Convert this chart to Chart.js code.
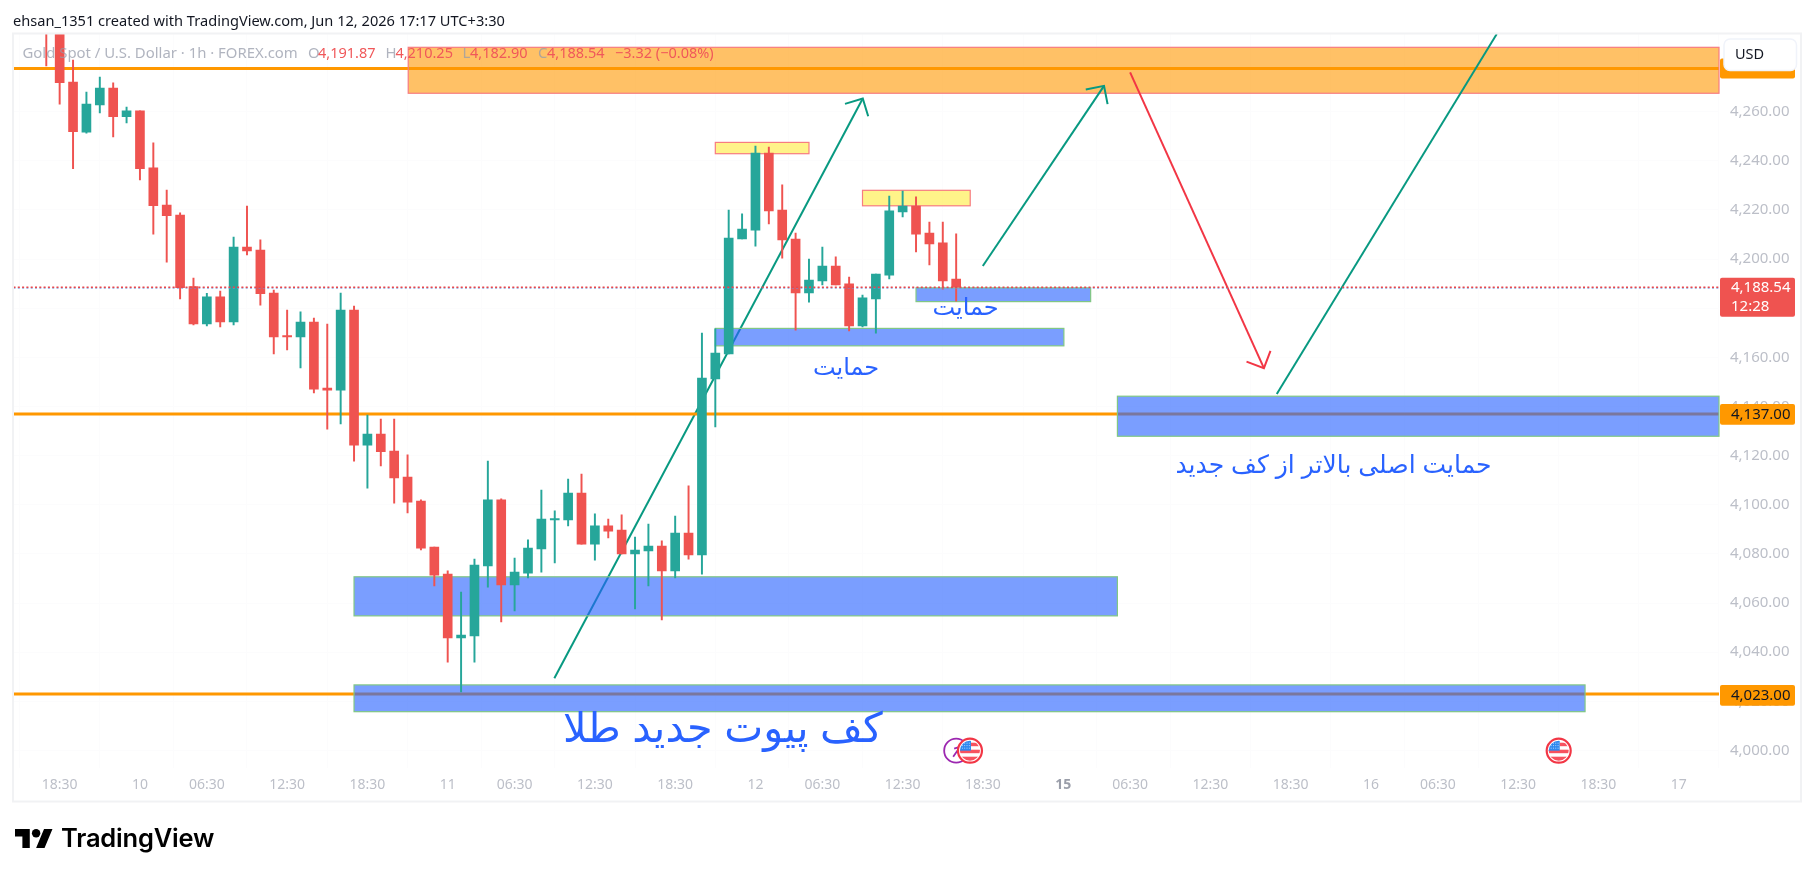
<!DOCTYPE html>
<html><head><meta charset="utf-8">
<script src="https://cdn.jsdelivr.net/npm/chart.js@4"></script>
<style>
html,body{margin:0;padding:0;background:#fff;width:1814px;height:877px;overflow:hidden}
canvas{position:absolute;left:0;top:0}
#title{position:absolute;left:13px;top:10px;font:14.6px "Noto Sans",sans-serif;color:#131722;white-space:nowrap}
#brand{position:absolute;left:61px;top:822px;font:600 25.5px Inter,sans-serif;color:#000;white-space:nowrap;letter-spacing:-.2px}
#logo{position:absolute;left:15px;top:829px}
</style></head><body>
<canvas id="c" width="1814" height="877"></canvas>
<div id="title">ehsan_1351 created with TradingView.com, Jun 12, 2026 17:17 UTC+3:30</div>
<svg id="logo" width="38" height="19" viewBox="0 4 36 18"><path d="M14 22H7V11H0V4h14v18zM28 22h-8l7.5-18h8L28 22z" fill="#000"/><circle cx="20" cy="8" r="4" fill="#000"/></svg>
<div id="brand">TradingView</div>
<script>
// ---------- candle data (one entry per hourly bar) ----------
const opens  = [4310,4298,4272.1,4251.7,4262.8,4269.6,4258,4260.3,4237.1,4222,4217.9,4188.8,4173.6,4184.6,4174.4,4204.9,4203.7,4186.2,4168.6,4168.3,4174.4,4147.5,4146.7,4179.3,4124.3,4128.8,4121.9,4111.3,4101.5,4082.8,4071.8,4045.8,4046.6,4075.1,4102,4067.4,4072.2,4082,4093.8,4093.8,4104.8,4084,4091.4,4089.7,4080,4081.2,4083.2,4073.1,4088.5,4079.6,4151.2,4161.4,4208.2,4211.8,4243.2,4220,4208.2,4186.2,4191.1,4197.2,4189.9,4172.8,4183.8,4193.5,4219.2,4221.6,4210.6,4206.6,4191.87];
const closes = [4298,4271.8,4251.9,4263.1,4269.6,4258,4260.3,4236.8,4221.7,4217.7,4188.4,4173.6,4184.6,4174.4,4204.9,4203.3,4185.9,4168.3,4168.3,4174.4,4147.1,4146.7,4179.3,4124.3,4128.8,4121.6,4110.9,4101.1,4082.4,4071.4,4045.8,4047,4075.5,4102,4067.4,4072.6,4082.4,4094.2,4094.2,4104.8,4084,4091.4,4089.3,4080,4081.6,4083.2,4073.1,4088.5,4079.6,4151.6,4161.8,4208.6,4212.2,4243.2,4219.6,4207.8,4186.2,4191.5,4197.2,4189.5,4172.8,4184.2,4193.9,4219.6,4221.6,4210.2,4206.2,4191.1,4188.54];
const highs  = [4318,4304,4281,4268,4274.1,4271.7,4261.9,4260.3,4247.3,4228.1,4218.8,4192.3,4186.1,4187,4209,4221.6,4207.8,4187.4,4179.3,4178.5,4176,4173.6,4186.2,4180.9,4136.5,4134.9,4134.9,4120.3,4102,4082.8,4073.1,4064.5,4077.9,4117.8,4102.4,4078.3,4085.7,4106,4097.5,4110.5,4112.5,4096.3,4094.2,4095.9,4086.9,4092.2,4085.3,4095.4,4107.7,4169.9,4171.6,4220,4218.4,4246,4245.6,4230.2,4210.6,4200,4204.9,4200.9,4192.7,4185.4,4193.9,4225.7,4227.7,4225.3,4215.1,4215.1,4210.25];
const lows   = [4278.6,4263.1,4236.8,4251.3,4259.5,4249.7,4255.4,4232.2,4210.2,4198.8,4183.8,4173.2,4172.8,4172.4,4173.2,4201.7,4181.3,4161.4,4163,4155.7,4145.5,4130.8,4132.9,4117.8,4106.8,4115.8,4100.7,4096.7,4081.6,4067,4036,4023.8,4036,4066.5,4052.3,4056.8,4070.2,4072.6,4076.3,4091.4,4084,4077.5,4086.5,4080,4057.6,4067,4053.1,4070.2,4077.9,4071.8,4131.7,4161.4,4208.2,4205.3,4214.3,4200.4,4171.1,4182.5,4189.5,4189.5,4170.8,4172.4,4169.9,4191.9,4217.2,4202.9,4197.6,4187.8,4182.9];
const barIndex = opens.map((_, i) => i);

// ---------- axis ticks ----------
const priceTicks = [4000,4020,4040,4060,4080,4100,4120,4140,4160,4180,4200,4220,4240,4260];
const timeTickIndex = [1,7,12,18,24,30,35,41,47,53,58,64,70,76,81,87,93,99,104,110,116,122];
const timeTickLabels = ['18:30','10','06:30','12:30','18:30','11','06:30','12:30','18:30','12','06:30','12:30','18:30','15','06:30','12:30','18:30','16','06:30','12:30','18:30','17'];
const X_MIN = -2.45, X_MAX = 125.01, Y_MIN = 3992.88, Y_MAX = 4291.62;

// ---------- horizontal levels ----------
const levelPrices = [4277.6, 4137, 4023];
const lastPrice = 4188.54;
const lastPriceShadow = 4188.2;

// ---------- drawn boxes: [from bar, to bar, upper price, lower price] ----------
const orangeBox  = [27.05, X_MAX, 4286.2, 4267.5];
const yellowBoxes = [[50, 57, 4247.5, 4242.9], [61, 69.05, 4228, 4221.7]];
const blueBoxes  = [[65, 78.05, 4188.3, 4182.7], [50, 76.05, 4171.8, 4164.7], [23, 80.05, 4070.7, 4054.8], [23, 115, 4026.7, 4015.8], [80.05, X_MAX, 4144.2, 4127.9]];

// ---------- trend lines: [from bar, from price, to bar, to price] ----------
const arrowA = [37.97, 4029.4, 61.02, 4265.4];
const arrowB = [69.99, 4197.2, 79.05, 4270.5];
const arrowC = [81.0, 4276, 91.0, 4155.6];
const lineD  = [91.96, 4145.1, 108.4, 4291.6];

// ---------- annotation labels ----------
const noteTexts = ['کف پیوت جدید طلا', 'حمایت', 'حمایت', 'حمایت اصلی بالاتر از کف جدید'];
const noteBars  = [50.56, 59.77, 68.7, 96.2];
const notePrice = [4008, 4155.7, 4180.1, 4115.9];
const noteSizes = [41.4, 24, 24, 25];

const flagBars = [69.03, 113.03];
const ringBar = 68;

const UP = '#26a69a', DOWN = '#ef5350', ORANGE = '#ff9800', BLUE = '#2962ff';
const candleColors = opens.map((o, i) => closes[i] >= o ? UP : DOWN);
const FONT = '"Noto Sans",sans-serif';

function seg(s, color, order, arrow) {
  return {type:'line', data:[{x:s[0],y:s[1]},{x:s[2],y:s[3]}], borderColor:color, borderWidth:2,
          pointRadius:0, order, arrow, tension:0, spanGaps:true};
}
function hline(v, color, width, order, dash) {
  return {type:'line', data:[{x:X_MIN,y:v},{x:X_MAX,y:v}], borderColor:color, borderWidth:width,
          pointRadius:0, order, borderDash:dash||[], clip:0};
}
const datasets = [
  seg(arrowA, '#089981', 10, true),
  ...levelPrices.map(v => hline(v, ORANGE, 3, 9)),
  {id:'wicks', type:'bar', data:barIndex.map(i => ({x:i, y:[lows[i], highs[i]]})), backgroundColor:candleColors,
   barThickness:1.3, grouped:false, order:5, clip:0},
  {id:'bodies', type:'bar', data:barIndex.map(i => ({x:i, y:[opens[i], closes[i]]})), backgroundColor:candleColors,
   barThickness:9, grouped:false, order:4, clip:0, minBarLength:1.5},
  seg(arrowB, '#089981', 3, true),
  seg(arrowC, '#f23645', 3, true),
  seg(lineD, '#089981', 3, false),
  hline(lastPriceShadow, '#6f8fd8', 1, 2, [2,2.3]),
  hline(lastPrice, '#e8474a', 1.4, 1, [2,2.3]),
];

function boxPlugin(chart) {
  const {ctx, scales:{x, y}} = chart;
  const box = (b, fill, stroke) => {
    const x0 = x.getPixelForValue(b[0]), x1 = x.getPixelForValue(b[1]);
    const y0 = y.getPixelForValue(b[2]), y1 = y.getPixelForValue(b[3]);
    ctx.fillStyle = fill; ctx.fillRect(x0, y0, x1 - x0, y1 - y0);
    ctx.strokeStyle = stroke; ctx.lineWidth = 1.2; ctx.strokeRect(x0, y0, x1 - x0, y1 - y0);
  };
  box(orangeBox, 'rgba(255,152,0,0.6)', '#f77c80');
  yellowBoxes.forEach(b => box(b, 'rgba(255,235,59,0.6)', '#f77c80'));
  blueBoxes.forEach(b => box(b, 'rgba(41,98,255,0.62)', '#81c784'));
}
function pill(ctx, y0, y1, fill) {
  ctx.fillStyle = fill; ctx.beginPath(); ctx.roundRect(1720, y0, 75, y1 - y0, 2); ctx.fill();
}
function flag(ctx, cx, cy) {
  ctx.save();
  ctx.beginPath(); ctx.arc(cx, cy, 12, 0, 7); ctx.fillStyle = '#fff'; ctx.fill();
  ctx.strokeStyle = '#f23645'; ctx.lineWidth = 2.2; ctx.stroke();
  ctx.beginPath(); ctx.arc(cx, cy, 10, 0, 7); ctx.clip();
  ctx.fillStyle = '#f7525f';
  ctx.fillRect(cx - 11, cy - 1, 22, 3.5); ctx.fillRect(cx - 11, cy + 6, 22, 5); ctx.fillRect(cx + 1, cy - 8, 11, 3.5);
  ctx.fillStyle = '#2e88ee'; ctx.fillRect(cx - 11, cy - 11, 12, 11);
  ctx.fillStyle = '#cfe3ff';
  for (let i = 0; i < 4; i++) for (let j = 0; j < 3; j++) ctx.fillRect(cx - 8 + i * 2.3, cy - 8 + j * 2.5, .9, .9);
  ctx.restore();
}
const annot = {
  id:'annot',
  beforeDatasetDraw(chart, args) {
    if (chart.data.datasets[args.index].id === 'wicks') boxPlugin(chart);
  },
  afterDatasetDraw(chart, args) {
    const d = chart.data.datasets[args.index];
    if (!d.arrow) return;
    const {ctx} = chart, pts = args.meta.data;
    const a = pts[0], b = pts[1], ang = Math.atan2(a.y - b.y, a.x - b.x), L = 18.6;
    ctx.save(); ctx.beginPath();
    ctx.moveTo(b.x + L * Math.cos(ang + .785), b.y + L * Math.sin(ang + .785));
    ctx.lineTo(b.x, b.y);
    ctx.lineTo(b.x + L * Math.cos(ang - .785), b.y + L * Math.sin(ang - .785));
    ctx.strokeStyle = d.borderColor; ctx.lineWidth = 2; ctx.stroke(); ctx.restore();
  },
  afterDraw(chart) {
    const {ctx, scales:{x, y}} = chart;
    ctx.save();
    // annotation text
    ctx.fillStyle = BLUE; ctx.textAlign = 'center'; ctx.textBaseline = 'middle'; ctx.direction = 'rtl';
    noteTexts.forEach((t, i) => {
      ctx.font = noteSizes[i] + 'px "Liberation Sans","DejaVu Sans",sans-serif';
      ctx.fillText(t, x.getPixelForValue(noteBars[i]), y.getPixelForValue(notePrice[i]));
    });
    ctx.direction = 'ltr'; ctx.textAlign = 'left';
    // economic calendar markers
    const ey = 750.7, rx = x.getPixelForValue(ringBar);
    ctx.beginPath(); ctx.arc(rx, ey, 12, 0, 7); ctx.strokeStyle = '#9c27b0'; ctx.lineWidth = 1.8; ctx.stroke();
    ctx.beginPath(); ctx.moveTo(rx - 3, ey + 6); ctx.lineTo(rx + 4, ey - 4); ctx.moveTo(rx - 2, ey - 2); ctx.lineTo(rx + 4, ey - 4); ctx.lineTo(rx + 4, ey + 2); ctx.stroke();
    flagBars.forEach(b => flag(ctx, x.getPixelForValue(b), ey));
    // legend line
    ctx.font = '14.9px ' + FONT;
    ctx.fillStyle = 'rgba(150,155,170,.75)';
    ctx.fillText('Gold Spot / U.S. Dollar · 1h · FOREX.com', 22.5, 54);
    ctx.fillText('O', 308, 54); ctx.fillText('H', 385.5, 54); ctx.fillText('L', 462.6, 54); ctx.fillText('C', 538, 54);
    ctx.fillStyle = '#f0585a';
    ctx.font = '14.5px ' + FONT;
    ctx.fillText('4,191.87', 318, 54); ctx.fillText('4,210.25', 395.4, 54);
    ctx.fillText('4,182.90', 470, 54); ctx.fillText('4,188.54', 547, 54);
    ctx.fillText('−3.32 (−0.08%)', 615, 54);
    // price pills
    ctx.font = '15px ' + FONT;
    pill(ctx, y.getPixelForValue(levelPrices[0]) - 10, y.getPixelForValue(levelPrices[0]) + 10, ORANGE);
    pill(ctx, 404, 424.7, ORANGE);
    pill(ctx, 685, 705.7, ORANGE);
    pill(ctx, 277.7, 316.7, DOWN);
    ctx.fillStyle = '#131722';
    ctx.fillText('4,137.00', 1731, 414.7); ctx.fillText('4,023.00', 1731, 695.7);
    ctx.fillStyle = '#fff';
    ctx.fillText('4,188.54', 1731, 288); ctx.fillText('12:28', 1731, 306.5);
    // currency button
    ctx.fillStyle = '#fff'; ctx.strokeStyle = '#f0f3fa'; ctx.lineWidth = 1.5;
    ctx.beginPath(); ctx.roundRect(1724, 39, 72.5, 31.5, 6); ctx.fill(); ctx.stroke();
    ctx.fillStyle = '#131722'; ctx.font = '14.5px ' + FONT;
    ctx.fillText('USD', 1735, 55);
    // frame
    ctx.strokeStyle = '#f1f2f4'; ctx.lineWidth = 2;
    ctx.strokeRect(13, 33.5, 1788, 768);
    ctx.restore();
  }
};
new Chart(document.getElementById('c'), {
  type:'bar',
  data:{datasets},
  plugins:[annot],
  options:{
    responsive:false, animation:false, devicePixelRatio:1,
    layout:{padding:{left:13.5, top:34, right:13, bottom:76}},
    plugins:{legend:{display:false}, tooltip:{enabled:false}},
    scales:{
      x:{type:'linear', min:X_MIN, max:X_MAX, offset:false,
         afterFit(s){ s.height = 33; },
         afterBuildTicks(s){ s.ticks = timeTickIndex.map(v => ({value:v})); },
         grid:{color:'#fcfcfd', drawTicks:false}, border:{display:false},
         ticks:{autoSkip:false, maxRotation:0, padding:9,
                color(c){ return timeTickLabels[c.index]==='15' ? '#9a9ea9' : '#bcbfc8'; },
                font(c){ return {family:FONT, size:14, weight: timeTickLabels[c.index]==='15' ? 'bold' : 'normal'}; },
                callback(v){ return timeTickLabels[timeTickIndex.indexOf(v)]; }}},
      y:{type:'linear', position:'right', min:Y_MIN, max:Y_MAX,
         afterFit(s){ s.width = 82; },
         afterBuildTicks(s){ s.ticks = priceTicks.map(v => ({value:v})); },
         grid:{color:'#fcfcfd', drawTicks:false}, border:{display:false},
         ticks:{padding:11, color:'#bcbfc8', font:{family:FONT, size:15},
                callback(v){ return v.toLocaleString('en-US',{minimumFractionDigits:2}); }}}
    }
  }
});
</script>
</body></html>
